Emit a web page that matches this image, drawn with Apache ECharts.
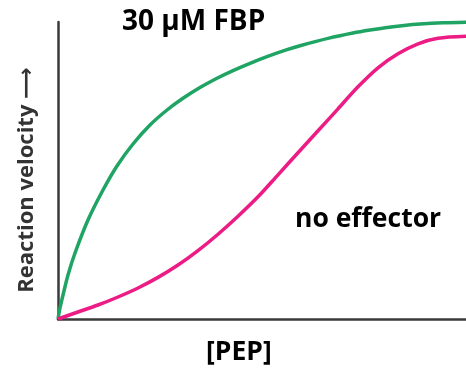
<!DOCTYPE html>
<html><head><meta charset="utf-8">
<script src="https://cdn.jsdelivr.net/npm/echarts@6/dist/echarts.min.js"></script>
<style>html,body{margin:0;padding:0;background:#fff}#c{width:466px;height:370px}</style>
</head><body><div id="c"></div>
<script>
// [PEP] (relative units 0-100) and reaction velocity (relative units 0-100)
var fbpX = [0, 0.49, 1.23, 2.45, 4.17, 7.35, 11.03, 14.46, 18.38, 22.55, 26.72, 30.64, 34.80, 38.97, 42.89, 47.06, 51.23, 56.13, 59.31, 66.67, 72.30, 76.47, 80.64, 84.80, 88.73, 94.36, 100];
var fbpY = [0, 3.70, 8.08, 14.81, 22.22, 33.33, 43.43, 51.52, 58.92, 65.32, 70.37, 74.31, 77.91, 81.04, 83.64, 86.09, 88.32, 90.67, 92.02, 94.65, 96.30, 97.31, 98.18, 98.86, 99.33, 99.73, 99.90];
var noEffX = [0, 4.90, 9.80, 14.71, 19.61, 24.51, 29.41, 34.31, 39.22, 44.12, 49.02, 53.92, 58.82, 63.73, 68.63, 73.53, 78.43, 83.33, 88.24, 93.14, 100];
var noEffY = [0, 2.36, 4.71, 7.41, 10.44, 14.01, 18.18, 23.03, 28.55, 34.61, 41.14, 48.55, 55.96, 63.37, 70.77, 78.18, 84.58, 89.29, 92.66, 94.51, 95.19];
var seriesNames = ['30 μM FBP', 'no effector'];
var xTitle = '[PEP]';
var yTitle = 'Reaction velocity ⟶';

function pairs(xs, ys){ return xs.map(function(x,i){return [x, ys[i]];}); }

var chart = echarts.init(document.getElementById('c'));
chart.setOption({
  animation: false,
  grid: {left: 58, right: 0, top: 22, bottom: 51},
  xAxis: {type: 'value', min: 0, max: 100,
    axisLine: {show: true, onZero: false, lineStyle: {color: '#3a3a3a', width: 2.5}},
    axisTick: {show: false}, axisLabel: {show: false}, splitLine: {show: false}},
  yAxis: {type: 'value', min: 0, max: 100,
    axisLine: {show: true, onZero: false, lineStyle: {color: '#3a3a3a', width: 2.5}},
    axisTick: {show: false}, axisLabel: {show: false}, splitLine: {show: false}},
  series: [
    {name: seriesNames[0], type: 'line', smooth: 0.3, symbol: 'none', clip: false,
     data: pairs(fbpX, fbpY), lineStyle: {color: '#1fa463', width: 3.5}},
    {name: seriesNames[1], type: 'line', smooth: 0.3, symbol: 'none', clip: false,
     data: pairs(noEffX, noEffY), lineStyle: {color: '#ec1c84', width: 3.5}}
  ],
  graphic: [
    {type: 'text', left: 122, top: 8, style: {text: seriesNames[0], fill: '#000',
      font: 'bold 28px "Open Sans", "DejaVu Sans", sans-serif'}},
    {type: 'text', left: 295, top: 206, style: {text: seriesNames[1], fill: '#000',
      font: 'bold 26.5px "Open Sans", "DejaVu Sans", sans-serif'}},
    {type: 'text', left: 206, top: 339, style: {text: xTitle, fill: '#000',
      font: 'bold 26.5px "Open Sans", "DejaVu Sans", sans-serif'}},
    {type: 'text', x: 27, y: 180, rotation: Math.PI/2,
      style: {text: yTitle, fill: '#333', align: 'center', verticalAlign: 'middle',
      font: 'bold 22px "Open Sans", "DejaVu Sans", sans-serif'}}
  ]
});
</script></body></html>
